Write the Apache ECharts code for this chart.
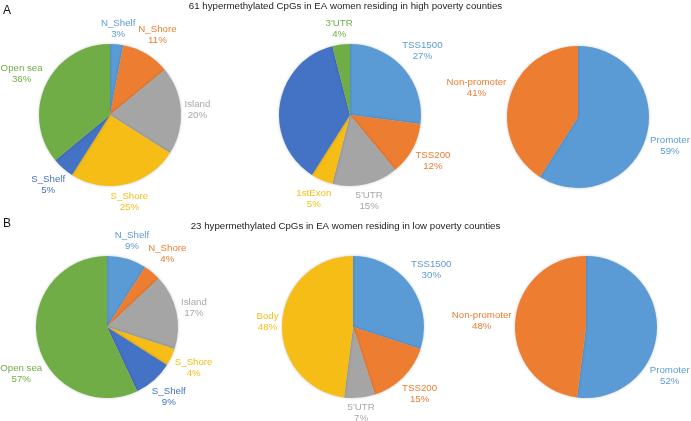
<!DOCTYPE html>
<html>
<head>
<meta charset="utf-8">
<script src="https://cdn.jsdelivr.net/npm/echarts@6/dist/echarts.min.js"></script>
<style>
html,body{margin:0;padding:0;background:#fff;}
#chart{width:691px;height:421px;}
</style>
</head>
<body>
<div id="chart"></div>
<script>
// Data
const titleA = '61 hypermethylated CpGs in EA women residing in high poverty counties';
const titleB = '23 hypermethylated CpGs in EA women residing in low poverty counties';

const islandCats = ['N_Shelf', 'N_Shore', 'Island', 'S_Shore', 'S_Shelf', 'Open sea'];
const islandHigh = [3, 11, 20, 25, 5, 36];
const islandLow = [9, 4, 17, 4, 9, 57];

const geneCatsHigh = ['TSS1500', 'TSS200', "5'UTR", '1stExon', 'Body', "3'UTR"];
const geneHigh = [27, 12, 15, 5, 37, 4];
const geneCatsLow = ['TSS1500', 'TSS200', "5'UTR", 'Body'];
const geneLow = [30, 15, 7, 48];

const promCats = ['Promoter', 'Non-promoter'];
const promHigh = [59, 41];
const promLow = [52, 48];

// styles
const C = {blue:'#5B9BD5', orange:'#ED7D31', gray:'#A5A5A5', yellow:'#F6BD16', dblue:'#4472C4', green:'#70AD47'};
const colorMap = {
  'N_Shelf':C.blue,'N_Shore':C.orange,'Island':C.gray,'S_Shore':C.yellow,'S_Shelf':C.dblue,'Open sea':C.green,
  'TSS1500':C.blue,'TSS200':C.orange,"5'UTR":C.gray,'1stExon':C.yellow,"3'UTR":C.green,
  'Promoter':C.blue,'Non-promoter':C.orange
};
const FONT = '"Liberation Sans", Arial, Helvetica, sans-serif';
const R = 71, GAP = 3, W = 691;

function makeData(cats, vals, bodyColor, hideBody) {
  return cats.map((n, i) => {
    const col = n === 'Body' ? bodyColor : colorMap[n];
    const d = {name: n, value: vals[i], itemStyle: {color: col}, label: {color: col === C.gray ? '#A8A8A8' : col}};
    if (n === 'Body' && hideBody) d.label.show = false;
    return d;
  });
}

// Place each label just outside the pie along its slice's mid-angle (Excel-like "outside end"),
// sliding along the circle if it would leave the canvas.
function makeLayout(center, vals) {
  const total = vals.reduce((a, b) => a + b, 0);
  return function (p) {
    const i = p.dataIndex;
    let before = 0;
    for (let j = 0; j < i; j++) before += vals[j];
    let a = (before + vals[i] / 2) / total * Math.PI * 2;
    const w = p.labelRect.width, h = p.labelRect.height;
    const pos = ang => {
      const sx = Math.sin(ang), sy = -Math.cos(ang);
      const d = R + GAP + Math.abs(sx) * w / 2 + Math.abs(sy) * h / 2;
      return [center[0] + sx * d, center[1] + sy * d];
    };
    const dir = (a % Math.PI) < Math.PI / 2 ? -1 : 1;
    let xy = pos(a), k = 0;
    while ((xy[0] - w / 2 < 0 || xy[0] + w / 2 > W - 1) && k < 360) {
      a += dir * Math.PI / 360;
      xy = pos(a);
      k++;
    }
    return {x: xy[0], y: xy[1], align: 'center', verticalAlign: 'middle', hideOverlap: false, moveOverlap: null};
  };
}

function pie(center, cats, vals, bodyColor, hideBody) {
  return {
    type: 'pie',
    center: center,
    radius: R,
    startAngle: 90,
    clockwise: true,
    avoidLabelOverlap: false,
    animation: false,
    label: {
      show: true,
      position: 'outside',
      formatter: '{b}\n{c}%',
      fontFamily: FONT,
      fontSize: 9.7,
      lineHeight: 11,
      align: 'center'
    },
    labelLine: {show: false, length: 4, length2: 0},
    labelLayout: makeLayout(center, vals),
    itemStyle: {shadowBlur: 3, shadowColor: 'rgba(0,0,0,0.22)'},
    emphasis: {disabled: true},
    data: makeData(cats, vals, bodyColor, hideBody)
  };
}

const chart = echarts.init(document.getElementById('chart'), null, {renderer: 'canvas'});
chart.setOption({
  backgroundColor: '#fff',
  title: [
    {text: 'A', left: 3, top: 5, padding: 0, textStyle: {fontFamily: FONT, fontSize: 12, fontWeight: 'normal', color: '#111'}},
    {text: titleA, left: 'center', top: 1, padding: 0, textStyle: {fontFamily: FONT, fontSize: 9.7, fontWeight: 'normal', color: '#222'}},
    {text: 'B', left: 3, top: 218, padding: 0, textStyle: {fontFamily: FONT, fontSize: 12, fontWeight: 'normal', color: '#111'}},
    {text: titleB, left: 'center', top: 221, padding: 0, textStyle: {fontFamily: FONT, fontSize: 9.7, fontWeight: 'normal', color: '#222'}}
  ],
  series: [
    pie([110, 115], islandCats, islandHigh),
    pie([350, 115], geneCatsHigh, geneHigh, C.dblue, true),
    pie([578, 117], promCats, promHigh),
    pie([107, 327], islandCats, islandLow),
    pie([353, 327], geneCatsLow, geneLow, C.yellow, false),
    pie([586, 327], promCats, promLow)
  ]
});
</script>
</body>
</html>
